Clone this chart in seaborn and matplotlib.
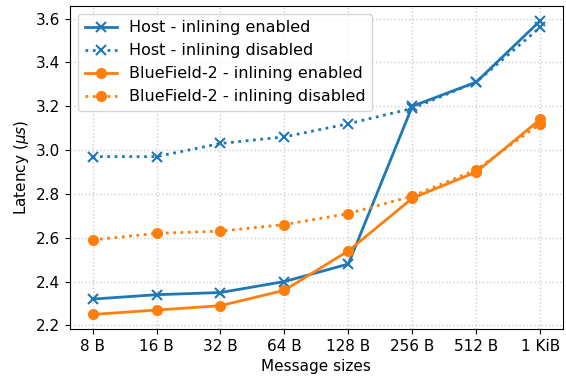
import matplotlib
matplotlib.use("Agg")
import matplotlib.pyplot as plt
import seaborn as sns
import pandas as pd

sizes = ["8 B", "16 B", "32 B", "64 B", "128 B", "256 B", "512 B", "1 KiB"]
host_enabled = [2.32, 2.34, 2.35, 2.40, 2.48, 3.20, 3.31, 3.59]
host_disabled = [2.97, 2.97, 3.03, 3.06, 3.12, 3.19, 3.31, 3.56]
bf_enabled = [2.25, 2.27, 2.29, 2.36, 2.54, 2.78, 2.90, 3.14]
bf_disabled = [2.59, 2.62, 2.63, 2.66, 2.71, 2.79, 2.91, 3.12]

series = [
    ("Host - inlining enabled", host_enabled, "#1f77b4", "-", "x"),
    ("Host - inlining disabled", host_disabled, "#1f77b4", ":", "x"),
    ("BlueField-2 - inlining enabled", bf_enabled, "#ff7f0e", "-", "o"),
    ("BlueField-2 - inlining disabled", bf_disabled, "#ff7f0e", ":", "o"),
]

fig, ax = plt.subplots(figsize=(5.66, 3.77), dpi=100)
x = list(range(len(sizes)))
for label, vals, color, ls, mk in series:
    df = pd.DataFrame({"x": x, "y": vals})
    sns.lineplot(data=df, x="x", y="y", ax=ax, color=color, linestyle=ls,
                 marker=mk, markersize=7, linewidth=2, label=label,
                 markeredgecolor=color, markeredgewidth=1.5 if mk == "x" else 1)

ax.set_xticks(x)
ax.set_xticklabels(sizes)
ax.tick_params(labelsize=11)
ax.set_xlabel("Message sizes", fontsize=11)
ax.set_ylabel(r"Latency ($\mu s$)", fontsize=11)
ax.grid(True, linestyle=":", color="#cccccc", linewidth=1)
ax.set_axisbelow(True)
ax.legend(loc="upper left", fontsize=11.5, handlelength=2)
fig.subplots_adjust(left=0.124, right=0.994, top=0.984, bottom=0.127)
fig.savefig("out.png", dpi=100)
